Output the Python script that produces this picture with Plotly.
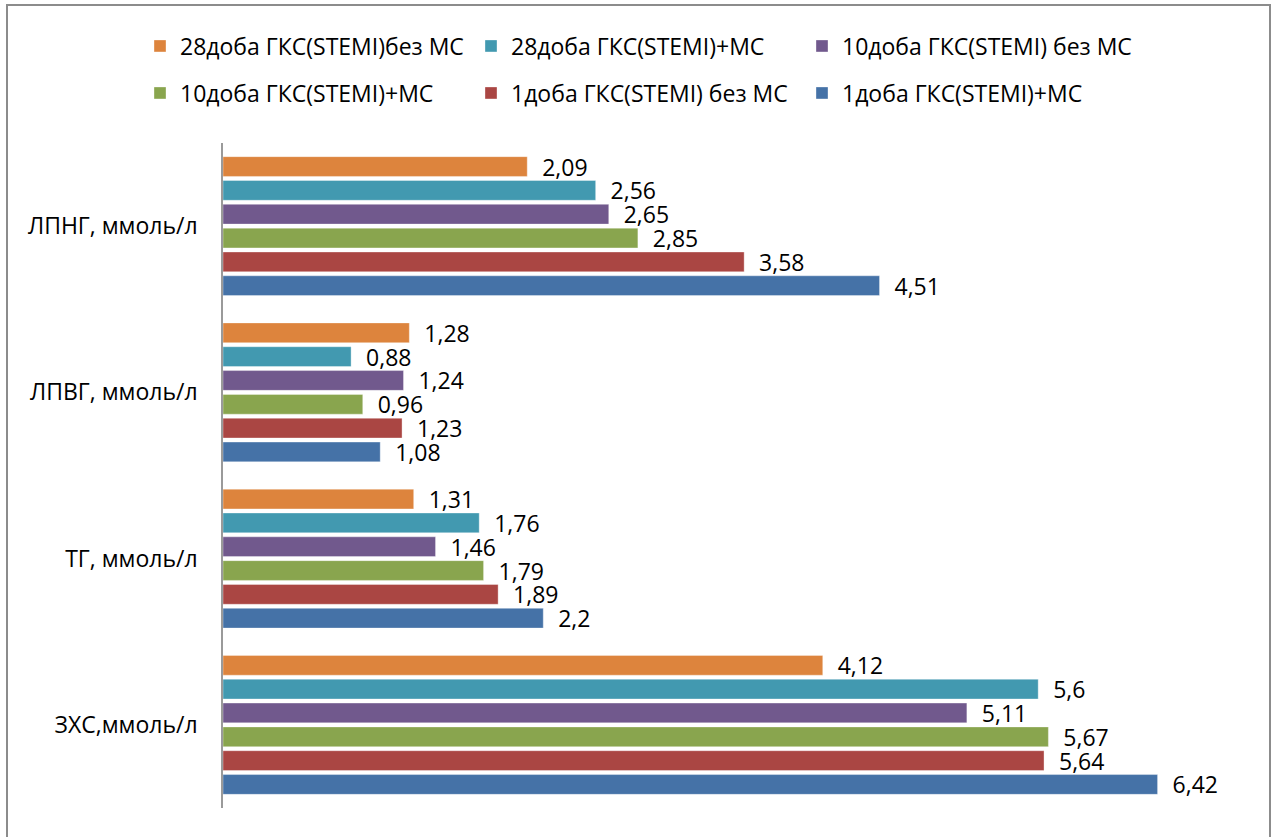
import plotly.graph_objects as go

# Lipid profile categories (bottom to top on the axis)
categories = ["ЗХС,ммоль/л", "ТГ, ммоль/л", "ЛПВГ, ммоль/л", "ЛПНГ, ммоль/л"]

# Series values, in the same category order
day1_ms = [6.42, 2.2, 1.08, 4.51]
day1_no_ms = [5.64, 1.89, 1.23, 3.58]
day10_ms = [5.67, 1.79, 0.96, 2.85]
day10_no_ms = [5.11, 1.46, 1.24, 2.65]
day28_ms = [5.6, 1.76, 0.88, 2.56]
day28_no_ms = [4.12, 1.31, 1.28, 2.09]

# (name, values, colour, legend row)
series = [
    ("1доба ГКС(STEMI)+МС", day1_ms, "#4572A7", "legend2"),
    ("1доба ГКС(STEMI) без МС", day1_no_ms, "#AA4643", "legend2"),
    ("10доба ГКС(STEMI)+МС", day10_ms, "#89A54E", "legend2"),
    ("10доба ГКС(STEMI) без МС", day10_no_ms, "#71598D", "legend"),
    ("28доба ГКС(STEMI)+МС", day28_ms, "#4299B0", "legend"),
    ("28доба ГКС(STEMI)без МС", day28_no_ms, "#DD843D", "legend"),
]

FONT = "Open Sans"
FS = 23
W, H = 1272, 837
ML, MR, MT, MB = 223, 30, 143, 29


def fmt(v):
    return "\u00a0\u00a0" + f"{v:g}".replace(".", ",")


fig = go.Figure()
for name, vals, color, leg in series:
    fig.add_trace(go.Bar(
        y=categories, x=vals, name=name, orientation="h", legend=leg,
        marker=dict(color=color, line=dict(color="rgba(255,255,255,0.35)", width=1)),
        text=[fmt(v) for v in vals], textposition="outside",
        constraintext="none", cliponaxis=False,
        textfont=dict(family=FONT, size=FS, color="#000"),
        hoverinfo="skip",
    ))

# outer chart frame
pw = W - ML - MR
ph = H - MT - MB
fig.add_shape(
    type="rect", xref="paper", yref="paper",
    x0=(7 - ML) / pw, x1=(1270 - ML) / pw,
    y0=(H - 845 - MB) / ph, y1=(H - 5 - MB) / ph,
    line=dict(color="#8c8c8c", width=2), fillcolor="rgba(0,0,0,0)", layer="below",
)


def legend_row(y_center):
    return dict(
        orientation="h", traceorder="reversed",
        x=(140 - ML) / pw, xanchor="left",
        y=(H - y_center - MB) / ph, yanchor="middle",
        entrywidth=286, entrywidthmode="pixels",
        font=dict(family=FONT, size=FS, color="#000"),
        itemclick=False, itemdoubleclick=False,
        bgcolor="rgba(0,0,0,0)",
    )


fig.update_layout(
    width=W, height=H,
    margin=dict(l=ML, r=MR, t=MT, b=MB),
    paper_bgcolor="white", plot_bgcolor="white",
    barmode="group", bargap=0.14, bargroupgap=0.17,
    showlegend=True,
    legend=legend_row(46),
    legend2=legend_row(93),
    xaxis=dict(range=[0, 7], visible=False, fixedrange=True),
    yaxis=dict(
        showline=True, linecolor="#9a9a9a", linewidth=1.5,
        showgrid=False, zeroline=False, ticks="",
        ticklabelstandoff=19,
        tickfont=dict(family=FONT, size=FS, color="#000"),
        fixedrange=True,
    ),
    font=dict(family=FONT),
)

fig.write_html("out.html")
